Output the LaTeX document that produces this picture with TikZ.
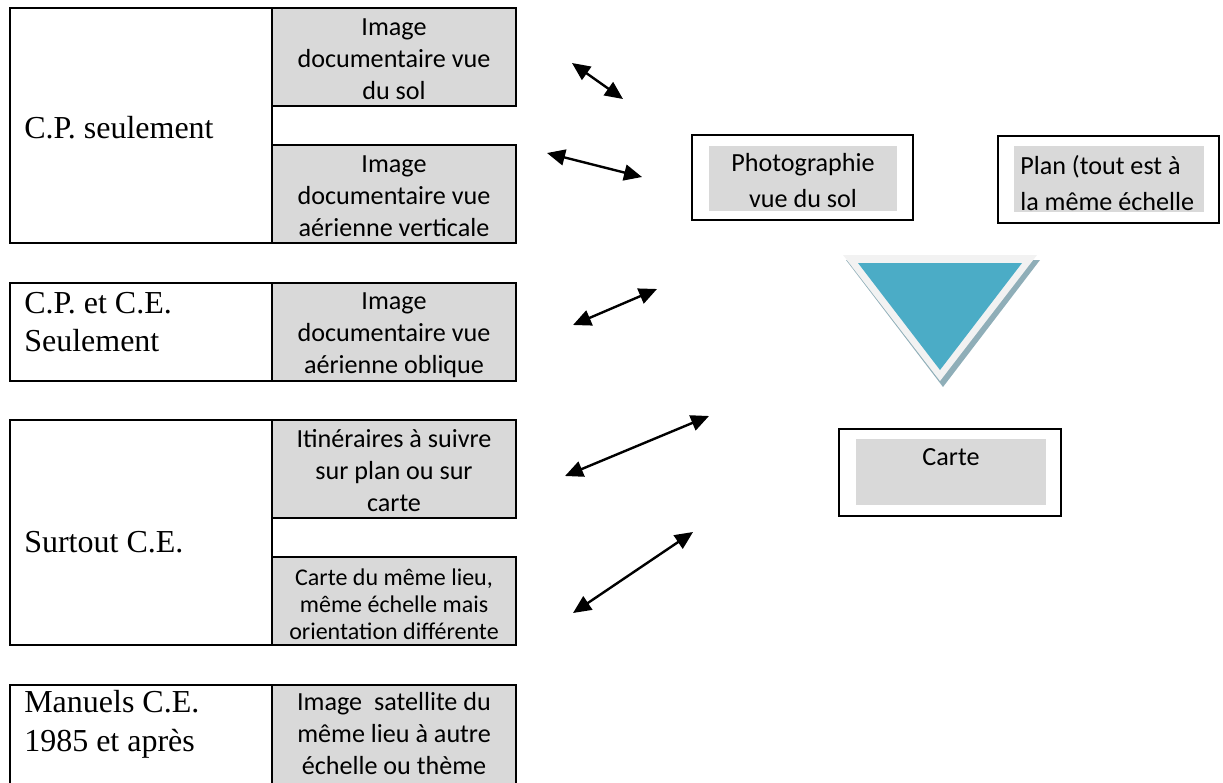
\documentclass[tikz,border=0pt]{standalone}
\usepackage{fontspec}
\setmainfont{Liberation Serif}
\newfontfamily\calfont{Carlito}
\usetikzlibrary{fit,arrows.meta}
\definecolor{cellgray}{HTML}{D9D9D9}
\definecolor{triblue}{HTML}{4BACC6}
\definecolor{trilight}{HTML}{F2F2F2}
\definecolor{trishadow}{HTML}{8FAEB8}
\begin{document}
\begin{tikzpicture}[x=0.75pt,y=-0.75pt,
  cell/.style={draw=black, line width=1.4pt, inner sep=0pt},
  graycell/.style={cell, fill=cellgray},
  frame/.style={draw=black, line width=1.4pt, inner sep=0pt},
  innergray/.style={fill=cellgray, inner sep=0pt},
  lefttxt/.style={font=\fontsize{24}{29}\selectfont, anchor=west, align=left, inner sep=0pt},
  graytxt/.style={font=\calfont\fontsize{19.6}{24}\selectfont, align=center, inner sep=0pt},
  smalltxt/.style={font=\calfont\fontsize{18}{20.3}\selectfont, align=center, inner sep=0pt},
  righttxt/.style={font=\calfont\fontsize{19.6}{27}\selectfont, inner sep=0pt},
  dbl/.style={{Triangle[length=13.5pt,width=12pt]}-{Triangle[length=13.5pt,width=12pt]}, line width=1.8pt}
]
\useasboundingbox (0,0) rectangle (1223,782);
\clip (0,0) rectangle (1223,782);

% Group 1
\node[cell, fit={(10,8) (272,243)}] (g1l) {};
\node[graycell, fit={(272,8) (516,106)}] (g1a) {};
\node[graycell, fit={(272,145) (516,243)}] (g1b) {};
\node[lefttxt] (g1t) at (24,128) {C.P. seulement};
\node[graytxt] (g1at) at (394,59) {Image\\documentaire vue\\du sol};
\node[graytxt] (g1bt) at (394,196) {Image\\documentaire vue\\aérienne verticale};

% Group 2
\node[cell, fit={(10,283) (272,381)}] (g2l) {};
\node[graycell, fit={(272,283) (516,381)}] (g2a) {};
\node[lefttxt] (g2t) at (24,322) {C.P. et C.E.\\Seulement};
\node[graytxt] (g2at) at (394,335) {Image\\documentaire vue\\aérienne oblique};

% Group 3
\node[cell, fit={(10,420) (272,645)}] (g3l) {};
\node[graycell, fit={(272,420) (516,518)}] (g3a) {};
\node[graycell, fit={(272,557) (516,645)}] (g3b) {};
\node[lefttxt] (g3t) at (24,542) {Surtout C.E.};
\node[graytxt] (g3at) at (394,471) {Itinéraires à suivre\\sur plan ou sur\\carte};
\node[smalltxt] (g3bt) at (394,604) {Carte du même lieu,\\même échelle mais\\orientation différente};

% Group 4
\node[cell, fit={(10,685) (272,795)}] (g4l) {};
\node[graycell, fit={(272,685) (516,795)}] (g4a) {};
\node[lefttxt] (g4t) at (24,724) {Manuels C.E.\\1985 et après};
\node[graytxt] (g4at) at (394,734) {Image~ satellite du\\même lieu à autre\\échelle ou thème};

% Right boxes
\node[frame, fit={(692,135) (913,220)}] (photo) {};
\node[innergray, fit={(709,146) (897,211)}] (photoin) {};
\node[righttxt, align=center] (photot) at (803,181) {Photographie\\vue du sol};

\node[frame, fit={(998,136) (1219,223)}] (plan) {};
\node[innergray, fit={(1014,146) (1204,212)}] (planin) {};
\node[righttxt, align=left, anchor=west] (plant) at (1020,183) {Plan (tout est à\\la même échelle};

\node[frame, fit={(839,429) (1061,516)}] (carte) {};
\node[innergray, fit={(856,439) (1046,505)}] (cartein) {};
\node[righttxt] (cartet) at (951,457) {Carte};

% Triangle
\fill[trishadow] (846,260) -- (1040,260) -- (943,387) -- cycle;
\fill[trilight] (843,255) -- (1037,255) -- (940,381) -- cycle;
\fill[triblue] (858,263) -- (1022,263) -- (940,370) -- cycle;

% Arrows
\coordinate (a1s) at (572,63);  \coordinate (a1e) at (623,99);
\coordinate (a2s) at (547,153); \coordinate (a2e) at (642,177);
\coordinate (a3s) at (573,325); \coordinate (a3e) at (657,289);
\coordinate (a4s) at (565,476); \coordinate (a4e) at (709,416);
\coordinate (a5s) at (573,613); \coordinate (a5e) at (693,532);
\draw[dbl] (a1s) -- (a1e);
\draw[dbl] (a2s) -- (a2e);
\draw[dbl] (a3s) -- (a3e);
\draw[dbl] (a4s) -- (a4e);
\draw[dbl] (a5s) -- (a5e);
\end{tikzpicture}
\end{document}
